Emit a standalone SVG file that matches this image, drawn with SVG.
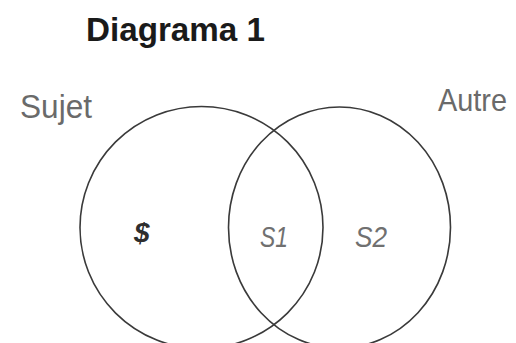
<svg xmlns="http://www.w3.org/2000/svg" width="516" height="343" viewBox="0 0 516 343">
<style>
.c{fill:none;stroke:#3a3a3a;stroke-width:1.6}
.lbl{font-family:"Liberation Sans",Arial,sans-serif;fill:#6a6a6a}
.it{font-family:"Liberation Sans",Arial,sans-serif;font-style:italic;fill:#707070}
</style>
<rect width="516" height="343" fill="#ffffff"/>
<text id="title" x="86" y="41" font-family="Liberation Sans, Arial, sans-serif" font-weight="bold" font-size="33" fill="#1a1a1a" textLength="179" lengthAdjust="spacingAndGlyphs">Diagrama 1</text>
<g id="sujet">
<ellipse class="c" cx="201.5" cy="227.5" rx="121.5" ry="121"/>
<text class="lbl" x="20" y="118" font-size="34" textLength="72" lengthAdjust="spacingAndGlyphs">Sujet</text>
</g>
<g id="autre">
<ellipse class="c" cx="339.5" cy="227.5" rx="111" ry="120.5"/>
<text class="lbl" x="438" y="111" font-size="32" textLength="69" lengthAdjust="spacingAndGlyphs">Autre</text>
</g>
<g id="regions">
<text x="134" y="242" font-family="Liberation Sans, Arial, sans-serif" font-style="italic" font-weight="bold" font-size="28" fill="#2e2e2e">$</text>
<text class="it" x="260" y="247" font-size="30" textLength="28" lengthAdjust="spacingAndGlyphs">S1</text>
<text class="it" x="355" y="247" font-size="30" textLength="32" lengthAdjust="spacingAndGlyphs">S2</text>
</g>
</svg>
